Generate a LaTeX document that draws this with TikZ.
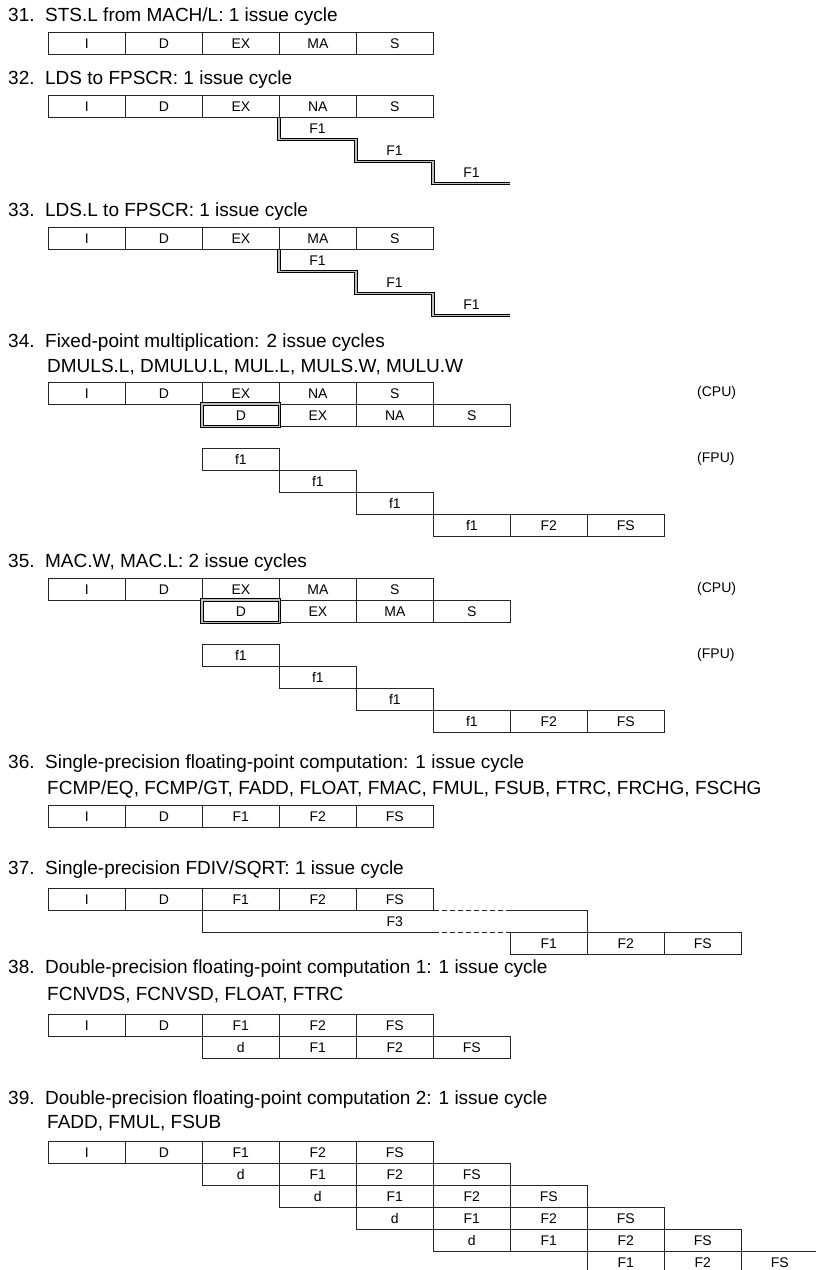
\documentclass[tikz,border=0pt]{standalone}
\usepackage{fontspec}
\setmainfont{Liberation Sans}
\usetikzlibrary{positioning}

\begin{document}
\begin{tikzpicture}[
  x=1pt, y=-1pt,
  font=\fontsize{19}{22}\selectfont,
  titolo/.style={anchor=west, inner sep=0pt},
  cella/.style={draw=black!85, line width=0.7pt, anchor=north west, inner sep=0pt,
                minimum width=77pt, minimum height=22pt, text height=10pt, text depth=0pt,
                font=\fontsize{14}{16}\selectfont},
  etichetta/.style={inner sep=0pt, text height=10pt, text depth=0pt, font=\fontsize{14}{16}\selectfont},
  nota/.style={anchor=west, inner sep=0pt, font=\fontsize{14}{16}\selectfont},
  linea/.style={draw=black!85, line width=0.7pt},
  tratteggio/.style={draw=black!85, line width=0.7pt, dash pattern=on 5pt off 3pt},
  scala/.style={draw=black, line width=0.85pt, double=black!25, double distance=1.5pt}
]
\useasboundingbox (0,0) rectangle (815,1270);

% 31
\node[titolo] (t31) at (8,17) {31.\ \ STS.L from MACH/L: 1 issue cycle};
\foreach \s [count=\i from 0] in {I,D,EX,MA,S}
  \node[cella] (a\i) at (48+77*\i,32) {\s};

% 32
\node[titolo] (t32) at (8,80) {32.\ \ LDS to FPSCR: 1 issue cycle};
\foreach \s [count=\i from 0] in {I,D,EX,NA,S}
  \node[cella] (b\i) at (48+77*\i,95) {\s};
\draw[scala] (b3.south west) -- ++(0,22) -- ++(77,0) -- ++(0,22) -- ++(77,0) -- ++(0,22) -- ++(77,0);
\foreach \i in {0,1,2}
  \node[etichetta] (bf\i) at (317.5+77*\i,128+22*\i) {F1};

% 33
\node[titolo] (t33) at (8,212) {33.\ \ LDS.L to FPSCR: 1 issue cycle};
\foreach \s [count=\i from 0] in {I,D,EX,MA,S}
  \node[cella] (c\i) at (48+77*\i,227) {\s};
\draw[scala] (c3.south west) -- ++(0,22) -- ++(77,0) -- ++(0,22) -- ++(77,0) -- ++(0,22) -- ++(77,0);
\foreach \i in {0,1,2}
  \node[etichetta] (cf\i) at (317.5+77*\i,260+22*\i) {F1};

% 34
\node[titolo] (t34) at (8,343) {34.\ \ Fixed-point multiplication: 2 issue cycles};
\node[titolo] (s34) at (47,367) {DMULS.L, DMULU.L, MUL.L, MULS.W, MULU.W};
\foreach \s [count=\i from 0] in {I,D,EX,NA,S}
  \node[cella] (d\i) at (48+77*\i,382) {\s};
\foreach \s [count=\i from 0] in {D,EX,NA,S}
  \node[cella] (e\i) at (202+77*\i,404) {\s};
\draw[scala] (e0.north west) rectangle (e0.south east);
\node[nota] (cpu34) at (697,393) {(CPU)};
\foreach \i in {0,1,2}
  \node[cella] (p\i) at (202+77*\i,448+22*\i) {f1};
\foreach \s [count=\i from 0] in {f1,F2,FS}
  \node[cella] (q\i) at (433+77*\i,514) {\s};
\node[nota] (fpu34) at (697,459) {(FPU)};

% 35
\node[titolo] (t35) at (8,563) {35.\ \ MAC.W, MAC.L: 2 issue cycles};
\foreach \s [count=\i from 0] in {I,D,EX,MA,S}
  \node[cella] (g\i) at (48+77*\i,578) {\s};
\foreach \s [count=\i from 0] in {D,EX,MA,S}
  \node[cella] (h\i) at (202+77*\i,600) {\s};
\draw[scala] (h0.north west) rectangle (h0.south east);
\node[nota] (cpu35) at (697,589) {(CPU)};
\foreach \i in {0,1,2}
  \node[cella] (k\i) at (202+77*\i,644+22*\i) {f1};
\foreach \s [count=\i from 0] in {f1,F2,FS}
  \node[cella] (m\i) at (433+77*\i,710) {\s};
\node[nota] (fpu35) at (697,655) {(FPU)};

% 36
\node[titolo] (t36) at (8,764) {36.\ \ Single-precision floating-point computation: 1 issue cycle};
\node[titolo] (s36) at (47,789) {FCMP/EQ, FCMP/GT, FADD, FLOAT, FMAC, FMUL, FSUB, FTRC, FRCHG, FSCHG};
\foreach \s [count=\i from 0] in {I,D,F1,F2,FS}
  \node[cella] (n\i) at (48+77*\i,805) {\s};

% 37
\node[titolo] (t37) at (8,870) {37.\ \ Single-precision FDIV/SQRT: 1 issue cycle};
\foreach \s [count=\i from 0] in {I,D,F1,F2,FS}
  \node[cella] (r\i) at (48+77*\i,888) {\s};
\node[etichetta, anchor=north west, minimum width=385pt, minimum height=22pt] (f3) at (202,910) {F3};
\draw[linea] (f3.north west) -- (f3.south west) -- (r4.south east |- f3.south);
\draw[tratteggio] (r4.south east) -- ++(77,0);
\draw[tratteggio] (r4.south east |- f3.south) -- ++(77,0);
\draw[linea] ([xshift=-77pt]f3.north east) -- (f3.north east) -- (f3.south east);
\foreach \s [count=\i from 0] in {F1,F2,FS}
  \node[cella] (u\i) at (510+77*\i,932) {\s};

% 38
\node[titolo] (t38) at (8,969) {38.\ \ Double-precision floating-point computation 1: 1 issue cycle};
\node[titolo] (s38) at (47,995) {FCNVDS, FCNVSD, FLOAT, FTRC};
\foreach \s [count=\i from 0] in {I,D,F1,F2,FS}
  \node[cella] (v\i) at (48+77*\i,1014) {\s};
\foreach \s [count=\i from 0] in {d,F1,F2,FS}
  \node[cella] (w\i) at (202+77*\i,1036) {\s};

% 39
\node[titolo] (t39) at (8,1100) {39.\ \ Double-precision floating-point computation 2: 1 issue cycle};
\node[titolo] (s39) at (47,1123) {FADD, FMUL, FSUB};
\foreach \s [count=\i from 0] in {I,D,F1,F2,FS}
  \node[cella] (x\i) at (48+77*\i,1141) {\s};
\foreach \r in {1,...,4}
  \foreach \s [count=\i from 0] in {d,F1,F2,FS}
    \node[cella] (y\r-\i) at (125+77*\r+77*\i,1141+22*\r) {\s};
\foreach \s [count=\i from 0] in {F1,F2,FS}
  \node[cella] (z\i) at (587+77*\i,1251) {\s};

\end{tikzpicture}
\end{document}
